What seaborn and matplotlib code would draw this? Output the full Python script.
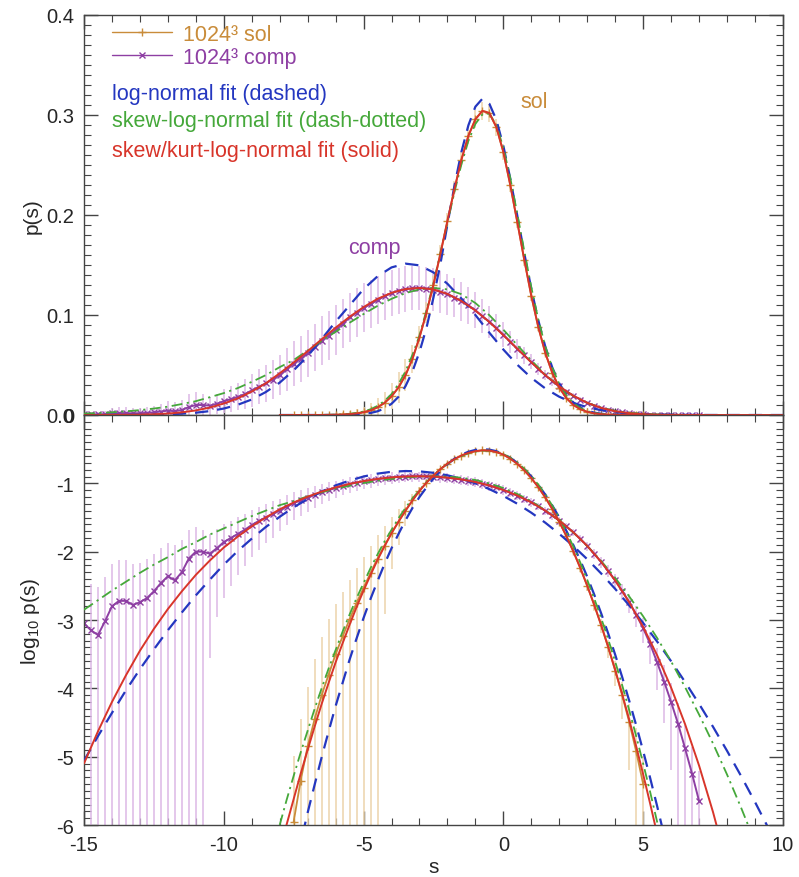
import numpy as np
import matplotlib
matplotlib.use('Agg')
import matplotlib.pyplot as plt
from matplotlib.ticker import MultipleLocator, FormatStrFormatter
from matplotlib.lines import Line2D
import seaborn as sns

sns.set_theme(style='ticks')
plt.rcParams['font.family'] = ['Liberation Sans', 'DejaVu Sans']
plt.rcParams['mathtext.default'] = 'regular'
plt.rcParams['axes.unicode_minus'] = False

# colores
c_sol = '#c98c3a'
c_comp = '#8e3fa3'
c_sol_err = '#ecd3ab'
c_comp_err = '#dcb8e6'
c_ln = '#2437c0'
c_skew = '#45a83a'
c_kurt = '#d8352a'

# --- datos: log10 p(s) ---
# solenoidal, fits (s = -8 .. 5.75, paso 0.25)
s_sol_fit = np.arange(-8.0, 5.76, 0.25)
sol_lognormal = [-7.66, -7.17, -6.71, -6.26, -5.82, -5.41, -5.01, -4.63, -4.26, -3.92,
                 -3.58, -3.27, -2.97, -2.69, -2.43, -2.18, -1.95, -1.74, -1.54, -1.36,
                 -1.20, -1.06, -0.93, -0.82, -0.72, -0.64, -0.58, -0.538, -0.511, -0.500,
                 -0.507, -0.530, -0.570, -0.627, -0.701, -0.792, -0.899, -1.024, -1.165, -1.324,
                 -1.499, -1.691, -1.900, -2.126, -2.368, -2.628, -2.904, -3.197, -3.508, -3.835,
                 -4.179, -4.539, -4.917, -5.311, -5.723, -6.151]
sol_skew = [-6.00, -5.63, -5.28, -4.94, -4.62, -4.30, -4.00, -3.71, -3.44, -3.17,
            -2.92, -2.68, -2.46, -2.24, -2.04, -1.85, -1.68, -1.51, -1.36, -1.22,
            -1.10, -0.98, -0.88, -0.79, -0.716, -0.652, -0.601, -0.562, -0.536, -0.522,
            -0.521, -0.538, -0.573, -0.626, -0.697, -0.786, -0.894, -1.020, -1.164, -1.326,
            -1.507, -1.706, -1.923, -2.158, -2.412, -2.684, -2.974, -3.283, -3.609, -3.954,
            -4.317, -4.699, -5.099, -5.516, -5.953, -6.407]
sol_kurt = [-6.39, -5.99, -5.62, -5.25, -4.90, -4.56, -4.23, -3.92, -3.62, -3.34,
            -3.07, -2.81, -2.57, -2.34, -2.12, -1.92, -1.73, -1.56, -1.40, -1.25,
            -1.11, -0.99, -0.885, -0.792, -0.712, -0.646, -0.593, -0.554, -0.529, -0.517,
            -0.520, -0.541, -0.580, -0.639, -0.715, -0.810, -0.924, -1.056, -1.207, -1.376,
            -1.563, -1.769, -1.994, -2.237, -2.499, -2.779, -3.077, -3.394, -3.730, -4.084,
            -4.457, -4.848, -5.258, -5.686, -6.132, -6.597]

# solenoidal, simulacion (s = -7.5 .. 5.0, paso 0.25) + error relativo
s_sol = np.arange(-7.5, 5.01, 0.25)
sol_data = [-5.95, -5.35, -4.85, -4.45, -4.10, -3.80, -3.50, -3.24, -2.99, -2.75,
            -2.53, -2.31, -2.10, -1.91, -1.73, -1.56, -1.40, -1.25, -1.11, -0.99,
            -0.885, -0.792, -0.712, -0.646, -0.593, -0.554, -0.529, -0.517, -0.520, -0.541,
            -0.580, -0.639, -0.715, -0.810, -0.924, -1.056, -1.207, -1.376, -1.563, -1.769,
            -1.994, -2.237, -2.499, -2.779, -3.077, -3.40, -3.74, -4.10, -4.49, -4.92,
            -5.40]
sol_relerr = [8, 7, 6.5, 6.5, 6, 5.5, 4.5, 3.5, 2.8, 2.2,
              1.8, 1.5, 1.2, 0.9, 0.7, 0.55, 0.4, 0.25, 0.15, 0.1,
              0.07, 0.05, 0.04, 0.035, 0.03, 0.03, 0.03, 0.03, 0.03, 0.03,
              0.03, 0.03, 0.03, 0.035, 0.04, 0.045, 0.05, 0.06, 0.07, 0.08,
              0.1, 0.12, 0.15, 0.18, 0.22, 0.3, 0.4, 0.55, 0.8, 1.2,
              1.6]

# compresivo, fits (s = -15 .. 10, paso 0.5)
s_comp_fit = np.arange(-15.0, 10.01, 0.5)
comp_lognormal = [-5.06, -4.70, -4.36, -4.03, -3.72, -3.43, -3.15, -2.89, -2.64, -2.41,
                  -2.19, -1.99, -1.81, -1.64, -1.49, -1.35, -1.23, -1.12, -1.03, -0.96,
                  -0.90, -0.858, -0.831, -0.820, -0.825, -0.846, -0.882, -0.934, -1.00, -1.085,
                  -1.184, -1.299, -1.43, -1.576, -1.739, -1.917, -2.11, -2.32, -2.545, -2.786,
                  -3.043, -3.315, -3.603, -3.907, -4.227, -4.563, -4.914, -5.281, -5.663, -6.062,
                  -6.476]
comp_skew = [-2.85, -2.71, -2.57, -2.44, -2.31, -2.19, -2.08, -1.96, -1.86, -1.75,
             -1.66, -1.57, -1.48, -1.40, -1.32, -1.26, -1.19, -1.13, -1.08, -1.035,
             -0.996, -0.962, -0.935, -0.914, -0.901, -0.896, -0.901, -0.918, -0.951, -1.001,
             -1.069, -1.156, -1.263, -1.393, -1.545, -1.719, -1.917, -2.137, -2.383, -2.654,
             -2.946, -3.263, -3.606, -3.983, -4.383, -4.808, -5.261, -5.743, -6.251, -6.788,
             -7.353]
comp_kurt = [-5.10, -4.63, -4.20, -3.81, -3.45, -3.13, -2.84, -2.58, -2.34, -2.13,
             -1.94, -1.78, -1.63, -1.50, -1.38, -1.28, -1.195, -1.121, -1.059, -1.008,
             -0.967, -0.935, -0.913, -0.900, -0.896, -0.901, -0.917, -0.943, -0.981, -1.032,
             -1.098, -1.179, -1.279, -1.400, -1.544, -1.715, -1.916, -2.151, -2.423, -2.739,
             -3.101, -3.516, -3.989, -4.525, -5.130, -5.812, -6.575, -7.43, -8.38, -9.44,
             -10.6]

# compresivo, simulacion (s = -15 .. 7, paso 0.25) + error relativo
s_comp = np.arange(-15.0, 7.01, 0.25)
comp_data = [-3.05, -3.15, -3.22, -3.02, -2.80, -2.72, -2.72, -2.78, -2.74, -2.68,
             -2.58, -2.46, -2.36, -2.42, -2.30, -2.10, -2.00, -2.00, -2.03, -1.95,
             -1.86, -1.80, -1.74, -1.68, -1.61, -1.55, -1.50, -1.45, -1.40, -1.34,
             -1.29, -1.25, -1.21, -1.17, -1.13, -1.10, -1.07, -1.04, -1.01, -0.99,
             -0.97, -0.955, -0.94, -0.925, -0.915, -0.905, -0.90, -0.897, -0.896, -0.898,
             -0.902, -0.91, -0.918, -0.93, -0.944, -0.96, -0.98, -1.005, -1.03, -1.06,
             -1.095, -1.135, -1.18, -1.225, -1.275, -1.335, -1.40, -1.47, -1.545, -1.63,
             -1.715, -1.81, -1.915, -2.03, -2.15, -2.28, -2.42, -2.57, -2.74, -2.92,
             -3.12, -3.35, -3.62, -3.90, -4.20, -4.52, -4.88, -5.25, -5.65]
comp_relerr = [3.5, 3.8, 4.0, 3.5, 3.2, 3.0, 3.0, 3.0, 2.8, 2.7,
               2.5, 2.3, 2.1, 2.3, 2.0, 1.6, 1.3, 1.05, 0.97, 0.9,
               0.85, 0.8, 0.75, 0.7, 0.66, 0.62, 0.58, 0.55, 0.5, 0.47,
               0.44, 0.41, 0.38, 0.35, 0.33, 0.31, 0.29, 0.27, 0.25, 0.24,
               0.23, 0.22, 0.21, 0.2, 0.19, 0.185, 0.18, 0.175, 0.17, 0.17,
               0.17, 0.17, 0.17, 0.17, 0.17, 0.17, 0.17, 0.17, 0.17, 0.16,
               0.16, 0.15, 0.15, 0.14, 0.14, 0.13, 0.13, 0.13, 0.13, 0.13,
               0.13, 0.14, 0.15, 0.16, 0.18, 0.2, 0.22, 0.26, 0.3, 0.35,
               0.4, 0.5, 0.6, 0.75, 0.9, 1.05, 1.2, 1.5, 1.8]

fig = plt.figure(figsize=(7.99, 8.78), dpi=100)
ax1 = fig.add_axes([0.1051, 0.5262, 0.8748, 0.4556])
ax2 = fig.add_axes([0.1051, 0.0592, 0.8748, 0.4670])


def barras(ax, s, logp, rel, color, log):
    p = 10 ** np.asarray(logp)
    err = np.asarray(rel) * p
    hi = p + err
    lo = p - err
    if log:
        lo = np.where(lo > 0, np.log10(np.clip(lo, 1e-30, None)), -8)
        hi = np.log10(hi)
    else:
        lo = np.clip(lo, 0, None)
    ax.vlines(s, lo, hi, colors=color, lw=1.1, zorder=1)


def curva(ax, s, logp, log, **kw):
    y = np.asarray(logp) if log else 10 ** np.asarray(logp)
    sns.lineplot(x=s, y=y, ax=ax, estimator=None, sort=False, legend=False, **kw)


for ax, log in [(ax1, False), (ax2, True)]:
    barras(ax, s_comp, comp_data, comp_relerr, c_comp_err, log)
    barras(ax, s_sol, sol_data, sol_relerr, c_sol_err, log)
    curva(ax, s_comp, comp_data, log, color=c_comp, lw=1.4, marker='x', ms=4.5,
          mec=c_comp, mew=1.0, zorder=2)
    curva(ax, s_sol, sol_data, log, color=c_sol, lw=1.3, marker='+', ms=5.5,
          mec=c_sol, mew=1.0, zorder=2)
    for s, ln, sk, ku in [(s_comp_fit, comp_lognormal, comp_skew, comp_kurt),
                          (s_sol_fit, sol_lognormal, sol_skew, sol_kurt)]:
        curva(ax, s, ln, log, color=c_ln, lw=1.6, linestyle=(0, (6, 4)), zorder=3)
        curva(ax, s, sk, log, color=c_skew, lw=1.3, linestyle=(0, (6, 2.5, 1.2, 2.5)), zorder=4)
        curva(ax, s, ku, log, color=c_kurt, lw=1.4, zorder=5)

# ejes
for ax in (ax1, ax2):
    ax.set_xlim(-15, 10)
    ax.xaxis.set_major_locator(MultipleLocator(5))
    ax.xaxis.set_minor_locator(MultipleLocator(1))
    ax.tick_params(which='both', direction='in', top=True, right=True,
                   color='#444444', labelsize=14.5, pad=7)
    ax.tick_params(which='major', length=10, width=1)
    ax.tick_params(which='minor', length=5, width=0.8)
    for sp in ax.spines.values():
        sp.set_color('#444444')
        sp.set_linewidth(1.0)
    ax.set_facecolor('white')

ax1.set_ylim(0, 0.4)
ax1.yaxis.set_major_locator(MultipleLocator(0.1))
ax1.yaxis.set_minor_locator(MultipleLocator(0.01))
ax1.yaxis.set_major_formatter(FormatStrFormatter('%.1f'))
ax1.tick_params(labelbottom=False)
ax1.set_xlabel('')
ax1.set_ylabel('p(s)', fontsize=15)
ax1.yaxis.set_label_coords(-0.06, 0.5)

ax2.set_ylim(-6, 0)
ax2.yaxis.set_major_locator(MultipleLocator(1))
ax2.yaxis.set_minor_locator(MultipleLocator(0.1))
ax2.yaxis.set_major_formatter(FormatStrFormatter('%d'))
ax2.set_ylabel('log$_{10}$ p(s)', fontsize=15)
ax2.yaxis.set_label_coords(-0.06, 0.5)
ax2.set_xlabel('s', fontsize=15)
ax2.xaxis.set_label_coords(0.5, -0.077)

# leyenda
handles = [Line2D([], [], color=c_sol, lw=1.0, marker='+', ms=6, mew=1.0),
           Line2D([], [], color=c_comp, lw=1.0, marker='x', ms=5, mew=1.0)]
ax1.legend(handles, ['1024³ sol', '1024³ comp'], loc='upper left',
           bbox_to_anchor=(0.028, 1.0), borderaxespad=0, frameon=False,
           fontsize=15.5, handlelength=2.8, handletextpad=0.5, labelspacing=0.1,
           labelcolor=[c_sol, c_comp])
ax1.text(0.040, 0.8025, 'log-normal fit (dashed)', transform=ax1.transAxes,
         color=c_ln, fontsize=15.5, va='center')
ax1.text(0.040, 0.735, 'skew-log-normal fit (dash-dotted)', transform=ax1.transAxes,
         color=c_skew, fontsize=15.5, va='center')
ax1.text(0.040, 0.66, 'skew/kurt-log-normal fit (solid)', transform=ax1.transAxes,
         color=c_kurt, fontsize=15.5, va='center')
ax1.text(1.1, 0.313, 'sol', color=c_sol, fontsize=15.5, ha='center', va='center')
ax1.text(-4.6, 0.167, 'comp', color=c_comp, fontsize=15.5, ha='center', va='center')

fig.savefig('out.png', dpi=100, facecolor='white')
